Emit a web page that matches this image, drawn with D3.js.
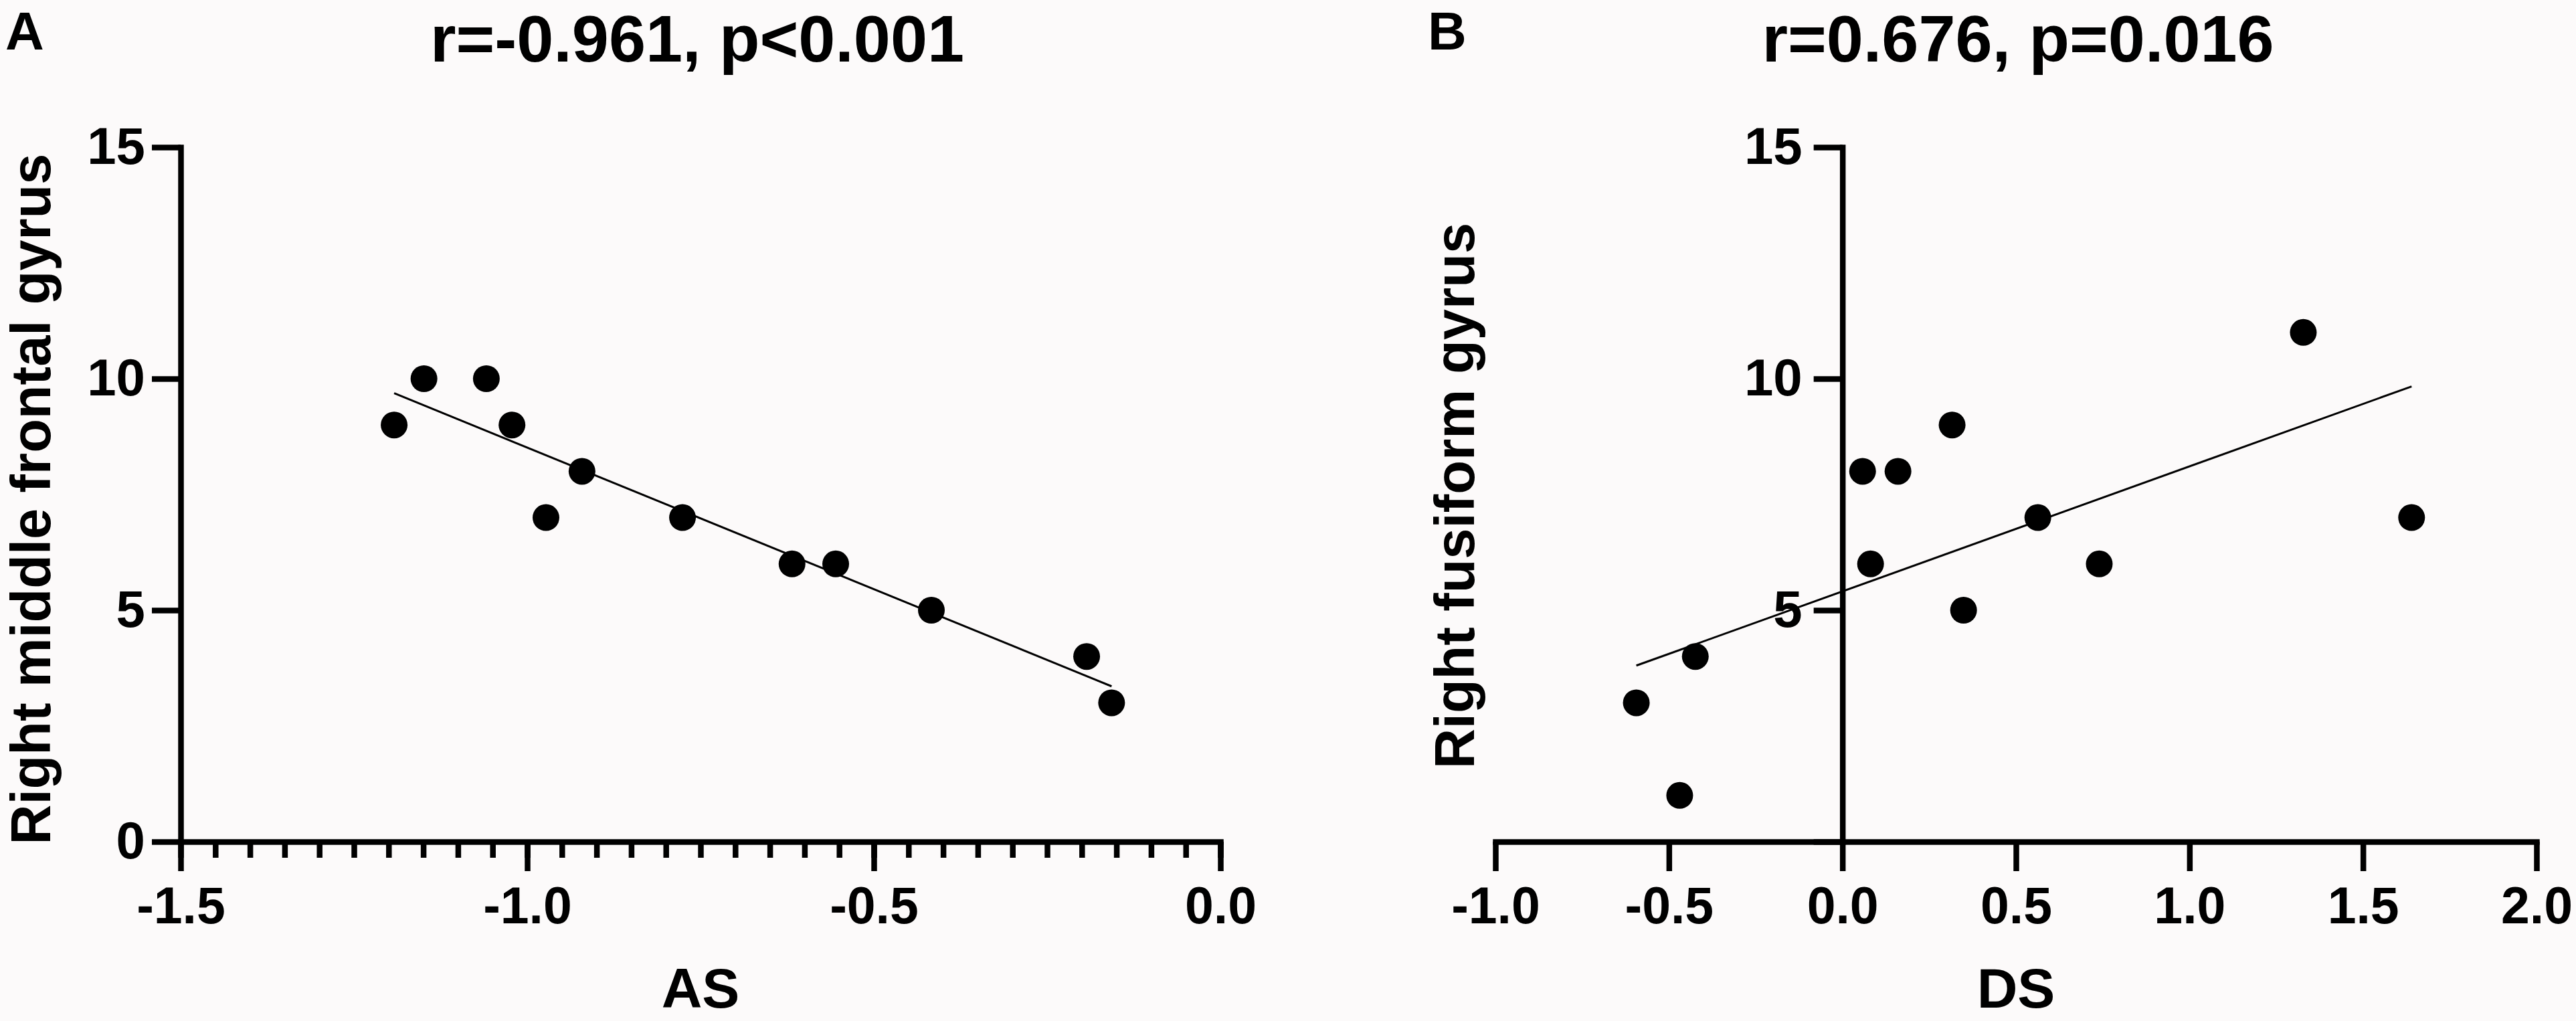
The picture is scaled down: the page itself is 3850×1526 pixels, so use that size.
<!DOCTYPE html>
<html>
<head>
<meta charset="utf-8">
<script src="https://cdn.jsdelivr.net/npm/d3@7"></script>
<style>
  body { margin: 0; background: #fcfafa; }
  svg { display: block; }
</style>
</head>
<body>
<div class="chart"></div>
<script>
// panel A: AS vs right middle frontal gyrus
const asScore = [-1.192, -1.149, -1.059, -1.022, -0.973, -0.921, -0.776, -0.618, -0.555, -0.417, -0.193, -0.157];
const mfgValue = [9, 10, 10, 9, 7, 8, 7, 6, 6, 5, 4, 3];

// panel B: DS vs right fusiform gyrus
const dsScore = [-0.594, -0.469, -0.424, 0.058, 0.081, 0.16, 0.316, 0.349, 0.563, 0.74, 1.328, 1.64];
const ffgValue = [3, 1, 4, 8, 6, 8, 9, 5, 7, 6, 11, 7];

const yTicks = [0, 5, 10, 15];
const xTicksA = [-1.5, -1.0, -0.5, 0.0];
const xTicksB = [-1.0, -0.5, 0.0, 0.5, 1.0, 1.5, 2.0];

const titleA = "r=-0.961, p<0.001";
const titleB = "r=0.676, p=0.016";

const width = 3850;
const height = 1526;
const font = "'Liberation Sans', Arial, Helvetica, sans-serif";
const axisWidth = 8.5;

const svg = d3
  .select(".chart")
  .append("svg")
  .attr("width", width)
  .attr("height", height);

svg.append("rect").attr("width", width).attr("height", height).attr("fill", "#fcfafa");

// least squares fit, drawn between the min and max x like Prism does
function linearFit(xs, ys) {
  const mx = d3.mean(xs);
  const my = d3.mean(ys);
  const sxy = d3.sum(xs, (x, i) => (x - mx) * (ys[i] - my));
  const sxx = d3.sum(xs, (x) => (x - mx) * (x - mx));
  const slope = sxy / sxx;
  const intercept = my - slope * mx;
  const ext = d3.extent(xs);
  return ext.map((x) => ({ x: x, y: intercept + slope * x }));
}

function styleAxis(g) {
  g.select(".domain")
    .attr("stroke", "#000")
    .attr("stroke-width", axisWidth)
    .attr("stroke-linecap", "square");
  g.selectAll(".tick line").attr("stroke", "#000").attr("stroke-width", axisWidth);
  g.selectAll(".tick text")
    .attr("fill", "#000")
    .attr("font-family", font)
    .attr("font-weight", 700);
}

function drawPanel(p) {
  const x = d3.scaleLinear().domain(p.xDomain).range(p.xRange);
  const y = d3.scaleLinear().domain([0, 15]).range([1258, 220]);
  const g = svg.append("g");

  // minor ticks (panel A only)
  if (p.minorStep) {
    const minor = d3.range(p.xDomain[0], p.xDomain[1] + 1e-9, p.minorStep);
    g.append("g")
      .attr("transform", `translate(0,${y(0)})`)
      .call(d3.axisBottom(x).tickValues(minor).tickSize(24).tickSizeOuter(0).tickFormat(""))
      .call(styleAxis)
      .call((a) => a.select(".domain").remove());
  }

  // x axis
  g.append("g")
    .attr("transform", `translate(0,${y(0)})`)
    .call(
      d3.axisBottom(x)
        .tickValues(p.xTicks)
        .tickSize(44)
        .tickSizeOuter(0)
        .tickPadding(23)
        .tickFormat((d) => d.toFixed(1))
    )
    .call(styleAxis)
    .call((a) => a.selectAll(".tick text").attr("font-size", "77px"));

  // y axis
  g.append("g")
    .attr("transform", `translate(${x(p.yAxisAt)},0)`)
    .call(
      d3.axisLeft(y)
        .tickValues(yTicks)
        .tickSize(43)
        .tickSizeOuter(0)
        .tickPadding(p.yPad)
        .tickFormat((d) => (p.hideZero && d === 0 ? "" : d))
    )
    .call(styleAxis)
    .call((a) => a.selectAll(".tick text").attr("font-size", "78px"));

  // fit line
  const fit = linearFit(p.xs, p.ys);
  g.append("path")
    .datum(fit)
    .attr("fill", "none")
    .attr("stroke", "#000")
    .attr("stroke-width", 3)
    .attr("d", d3.line().x((d) => x(d.x)).y((d) => y(d.y)));

  // points
  g.append("g")
    .selectAll("circle")
    .data(p.xs.map((v, i) => ({ x: v, y: p.ys[i] })))
    .join("circle")
    .attr("cx", (d) => x(d.x))
    .attr("cy", (d) => y(d.y))
    .attr("r", 20)
    .attr("fill", "#000");

  const mid = (p.xRange[0] + p.xRange[1]) / 2;

  // title
  g.append("text")
    .attr("x", mid + p.titleShift)
    .attr("y", 92)
    .attr("text-anchor", "middle")
    .attr("font-family", font)
    .attr("font-weight", 700)
    .attr("font-size", "99px")
    .text(p.title);

  // panel letter
  g.append("text")
    .attr("x", p.letterX)
    .attr("y", 74)
    .attr("font-family", font)
    .attr("font-weight", 700)
    .attr("font-size", "80px")
    .text(p.letter);

  // x label
  g.append("text")
    .attr("x", mid)
    .attr("y", 1506)
    .attr("text-anchor", "middle")
    .attr("font-family", font)
    .attr("font-weight", 700)
    .attr("font-size", "84px")
    .text(p.xLabel);

  // y label
  g.append("text")
    .attr("transform", `translate(${p.yLabelX},${p.yLabelY}) rotate(-90)`)
    .attr("text-anchor", "middle")
    .attr("font-family", font)
    .attr("font-weight", 700)
    .attr("font-size", "83px")
    .text(p.yLabel);
}

drawPanel({
  xs: asScore,
  ys: mfgValue,
  xDomain: [-1.5, 0],
  xRange: [270, 1824],
  xTicks: xTicksA,
  minorStep: 0.05,
  yAxisAt: -1.5,
  yPad: 10,
  hideZero: false,
  title: titleA,
  titleShift: -5,
  letter: "A",
  letterX: 8,
  xLabel: "AS",
  yLabel: "Right middle frontal gyrus",
  yLabelX: 75,
  yLabelY: 746,
});

drawPanel({
  xs: dsScore,
  ys: ffgValue,
  xDomain: [-1, 2],
  xRange: [2235, 3791],
  xTicks: xTicksB,
  minorStep: null,
  yAxisAt: 0,
  yPad: 17,
  hideZero: true,
  title: titleB,
  titleShift: 3,
  letter: "B",
  letterX: 2134,
  xLabel: "DS",
  yLabel: "Right fusiform gyrus",
  yLabelX: 2203,
  yLabelY: 741,
});
</script>
</body>
</html>
